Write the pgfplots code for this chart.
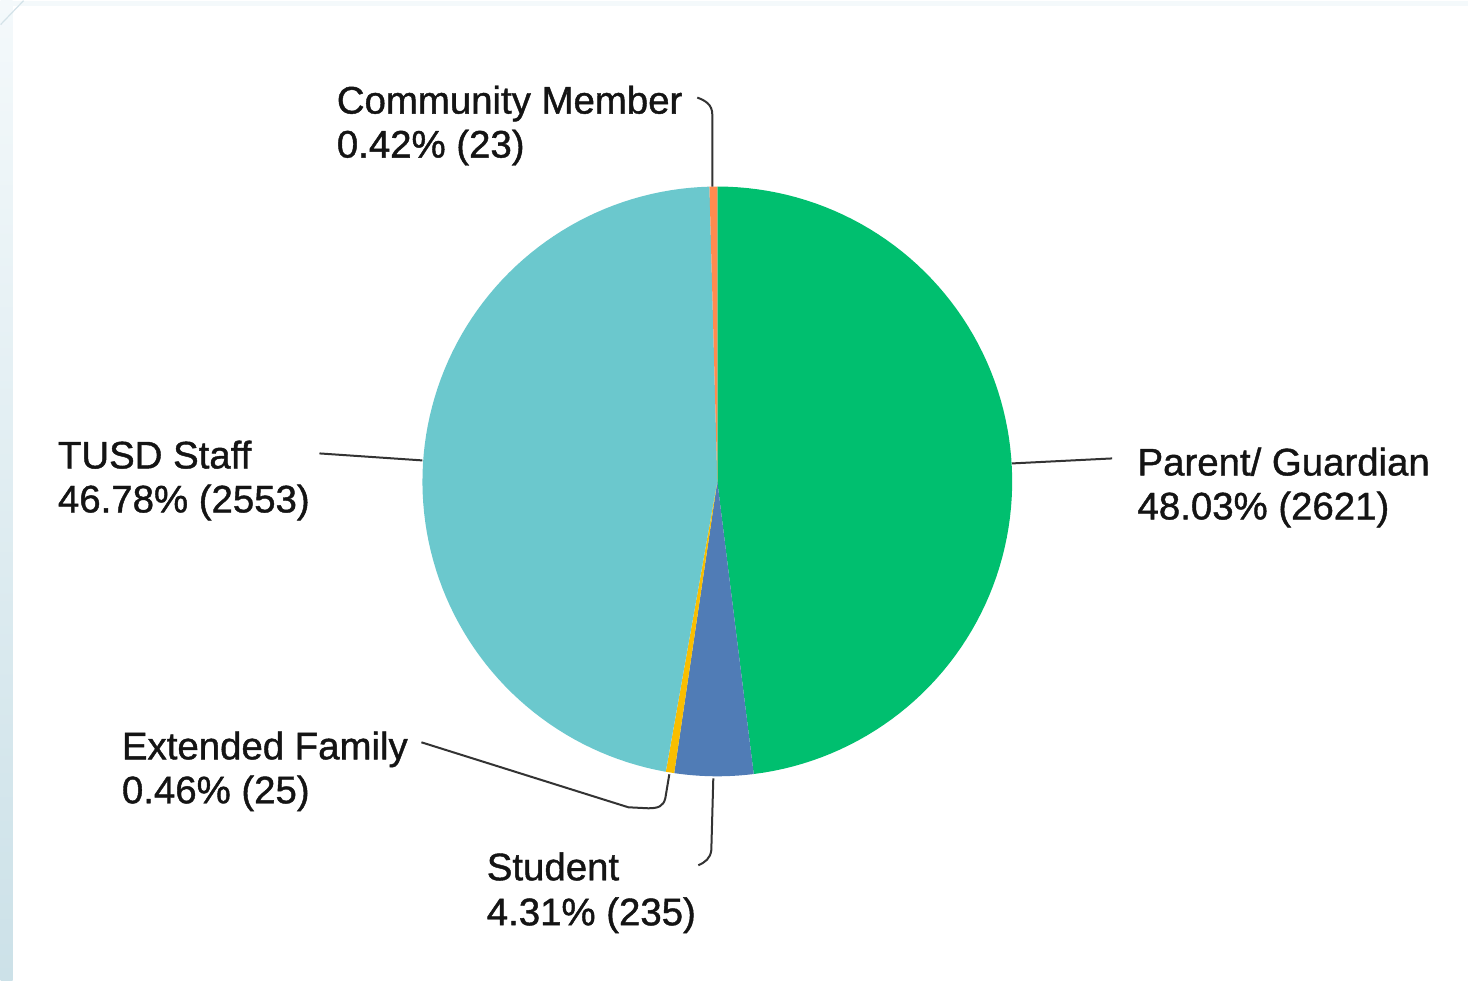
\documentclass[border=0pt]{standalone}
\usepackage{pgfplots}
\pgfplotsset{compat=1.18}
\usepackage{pgfplotstable}
\usepackage{fontspec}
\setmainfont{Liberation Sans}
\newfontfamily\lblfont{Liberation Sans}[FakeBold=1.1]

\definecolor{smgreen}{HTML}{00BF6F}
\definecolor{smteal}{HTML}{6BC8CD}
\definecolor{smblue}{HTML}{507CB6}
\definecolor{smyellow}{HTML}{F9BE00}
\definecolor{smorange}{HTML}{FF8B4F}
\definecolor{leader}{HTML}{333333}
\definecolor{labeltxt}{HTML}{141414}
\definecolor{topstrip}{HTML}{F4F9FB}
\definecolor{stripA}{HTML}{F4F9FB}
\definecolor{stripB}{HTML}{CCE1E8}
\definecolor{stripline}{HTML}{D3E2E8}

\tikzset{lbl/.style={anchor=base west, inner sep=0pt, text=labeltxt,
                     font=\lblfont\fontsize{19.2}{22}\selectfont}}

% responses per group, clockwise from 12 o'clock
\pgfplotstableread{
group count
Parent 2621
Student 235
Extended 25
Staff 2553
Community 23
}\responses

\pgfplotstablegetelem{0}{count}\of\responses \let\cParent\pgfplotsretval
\pgfplotstablegetelem{1}{count}\of\responses \let\cStudent\pgfplotsretval
\pgfplotstablegetelem{2}{count}\of\responses \let\cExtended\pgfplotsretval
\pgfplotstablegetelem{3}{count}\of\responses \let\cStaff\pgfplotsretval
\pgfplotstablegetelem{4}{count}\of\responses \let\cCommunity\pgfplotsretval
\pgfmathsetmacro{\total}{\cParent+\cStudent+\cExtended+\cStaff+\cCommunity}
% slice boundaries in degrees
\pgfmathsetmacro{\aA}{90}
\pgfmathsetmacro{\aB}{\aA-\cParent/\total*360}
\pgfmathsetmacro{\aC}{\aB-\cStudent/\total*360}
\pgfmathsetmacro{\aD}{\aC-\cExtended/\total*360}
\pgfmathsetmacro{\aE}{\aD-\cStaff/\total*360}
\pgfmathsetmacro{\aF}{\aE-\cCommunity/\total*360}

\newcommand{\cx}{717}
\newcommand{\cy}{481}
\newcommand{\rr}{295}

\begin{document}
\begin{tikzpicture}
\begin{axis}[
    width=734pt, height=490pt,
    scale only axis,
    xmin=0, xmax=1468, ymin=0, ymax=980,
    y dir=reverse,
    hide axis, clip=false,
    every axis plot/.append style={draw=none, samples=90, variable=\t},
  ]
  % page background and frame strips
  \fill[white] (axis cs:0,0) rectangle (axis cs:1468,980);
  \fill[topstrip] (axis cs:0,0) rectangle (axis cs:1468,5);
  \shade[top color=stripA, bottom color=stripB]
    (axis cs:0,0) rectangle (axis cs:12,980);
  \draw[line width=0.6pt, stripline] (axis cs:0,24) -- (axis cs:23,0);

  % slices
  \addplot[fill=smgreen, domain=\aB:\aA]
    ({\cx+\rr*cos(\t)},{\cy-\rr*sin(\t)}) -- (axis cs:\cx,\cy) -- cycle;
  \addplot[fill=smblue, domain=\aC:\aB]
    ({\cx+\rr*cos(\t)},{\cy-\rr*sin(\t)}) -- (axis cs:\cx,\cy) -- cycle;
  \addplot[fill=smyellow, domain=\aD:\aC, samples=5]
    ({\cx+\rr*cos(\t)},{\cy-\rr*sin(\t)}) -- (axis cs:\cx,\cy) -- cycle;
  \addplot[fill=smteal, domain=\aE:\aD]
    ({\cx+\rr*cos(\t)},{\cy-\rr*sin(\t)}) -- (axis cs:\cx,\cy) -- cycle;
  \addplot[fill=smorange, domain=\aF:\aE, samples=5]
    ({\cx+\rr*cos(\t)},{\cy-\rr*sin(\t)}) -- (axis cs:\cx,\cy) -- cycle;

  % leader lines
  \draw[leader, line width=1pt]
    (axis cs:712,186) -- (axis cs:712,114)
    .. controls (axis cs:712,104) and (axis cs:705,100) .. (axis cs:697,97);
  \draw[leader, line width=1pt] (axis cs:1012,463) -- (axis cs:1112,458);
  \draw[leader, line width=1pt] (axis cs:422,460) -- (axis cs:319,453);
  \draw[leader, line width=1pt]
    (axis cs:669,774) -- (axis cs:665,798)
    .. controls (axis cs:663,806) and (axis cs:658,808) .. (axis cs:648,808)
    -- (axis cs:628,807) -- (axis cs:421,742);
  \draw[leader, line width=1pt]
    (axis cs:713,778) -- (axis cs:711,850)
    .. controls (axis cs:710,858) and (axis cs:705,862) .. (axis cs:698,865);

  % labels
  \node[lbl] at (axis cs:336,113) {Community Member};
  \node[lbl] at (axis cs:336,157) {0.42\% (23)};
  \node[lbl] at (axis cs:1137,475) {Parent/ Guardian};
  \node[lbl] at (axis cs:1137,519) {48.03\% (2621)};
  \node[lbl] at (axis cs:57,468) {TUSD Staff};
  \node[lbl] at (axis cs:57,512) {46.78\% (2553)};
  \node[lbl] at (axis cs:121,759) {Extended Family};
  \node[lbl] at (axis cs:121,803) {0.46\% (25)};
  \node[lbl] at (axis cs:486,880) {Student};
  \node[lbl] at (axis cs:486,925) {4.31\% (235)};
\end{axis}
\end{tikzpicture}
\end{document}
